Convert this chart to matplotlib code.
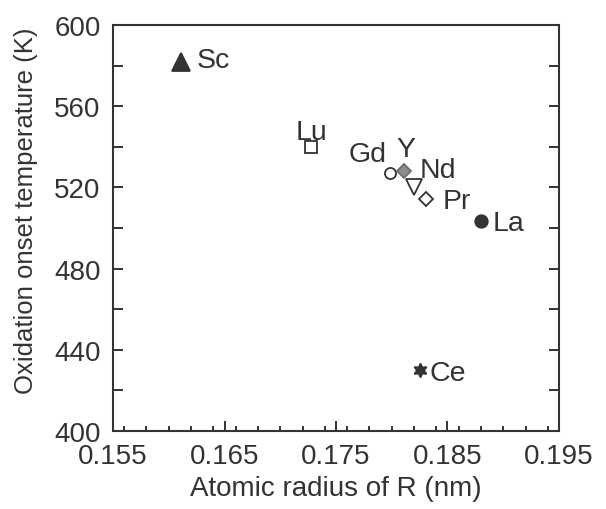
import matplotlib
matplotlib.use('Agg')
import matplotlib.pyplot as plt
from matplotlib.ticker import MultipleLocator

# data
elements = ['Sc', 'Lu', 'Gd', 'Y', 'Nd', 'Pr', 'La', 'Ce']
radius = [0.1611, 0.1728, 0.1798, 0.1811, 0.1820, 0.1831, 0.1880, 0.1825]
onset_temp = [582, 540, 527, 528, 520, 514.5, 503.5, 430]

x_ticks = [0.155, 0.165, 0.175, 0.185, 0.195]
y_ticks = [400, 440, 480, 520, 560, 600]

INK = '#333333'

# marker style per element: marker, size, face, edge
styles = {
    'Sc': ('^', 13, INK, INK),
    'Lu': ('s', 8, 'white', INK),
    'Gd': ('o', 8, 'white', INK),
    'Y': ('D', 7, '#8c8c8c', '#6e6e6e'),
    'Nd': ('v', 11, 'white', INK),
    'Pr': ('D', 7, 'white', INK),
    'La': ('o', 9, INK, INK),
    'Ce': ((6, 1, 0), 10, INK, INK),
}

# label offsets in pixels (up is positive) and alignment
label_pos = {
    'Sc': (16, -5, 'left'),
    'Lu': (0, 8, 'center'),
    'Gd': (-3, 12, 'right'),
    'Y': (2, 15, 'center'),
    'Nd': (6, 10, 'left'),
    'Pr': (16, -9, 'left'),
    'La': (12, -9, 'left'),
    'Ce': (10, -10, 'left'),
}

plt.rcParams['font.family'] = ['Liberation Sans', 'DejaVu Sans']
plt.rcParams['text.color'] = INK
plt.rcParams['axes.labelcolor'] = INK

fig = plt.figure(figsize=(6.06, 5.10), dpi=100)
ax = fig.add_axes([0.1865, 0.153, 0.7359, 0.796])

for name, x, y in zip(elements, radius, onset_temp):
    marker, ms, face, edge = styles[name]
    ax.plot(x, y, linestyle='none', marker=marker, markersize=ms,
            markerfacecolor=face, markeredgecolor=edge, markeredgewidth=1.3)
    dx, dy, ha = label_pos[name]
    ax.annotate(name, (x, y), xytext=(dx, dy), textcoords='offset pixels',
                ha=ha, va='baseline', fontsize=20.5, color=INK)

ax.set_xlim(0.155, 0.195)
ax.set_ylim(400, 600)
ax.set_xticks(x_ticks)
ax.set_xticklabels(['%.3f' % v for v in x_ticks])
ax.set_yticks(y_ticks)
ax.xaxis.set_minor_locator(MultipleLocator(0.002))
ax.yaxis.set_minor_locator(MultipleLocator(20))

ax.tick_params(which='both', direction='in', colors=INK, labelsize=20,
               width=1.4, top=False, right=True, labelright=False)
ax.tick_params(axis='x', which='major', length=7, pad=9)
ax.tick_params(axis='x', which='minor', length=3.5)
ax.tick_params(axis='y', which='both', length=7, pad=9)

for spine in ax.spines.values():
    spine.set_linewidth(1.5)
    spine.set_color(INK)

ax.set_xlabel('Atomic radius of R (nm)', fontsize=20, labelpad=4)
ax.set_ylabel('Oxidation onset temperature (K)', fontsize=18.5)
ax.yaxis.set_label_coords(-0.168, 0.545)

plt.savefig('out.png', dpi=100)
